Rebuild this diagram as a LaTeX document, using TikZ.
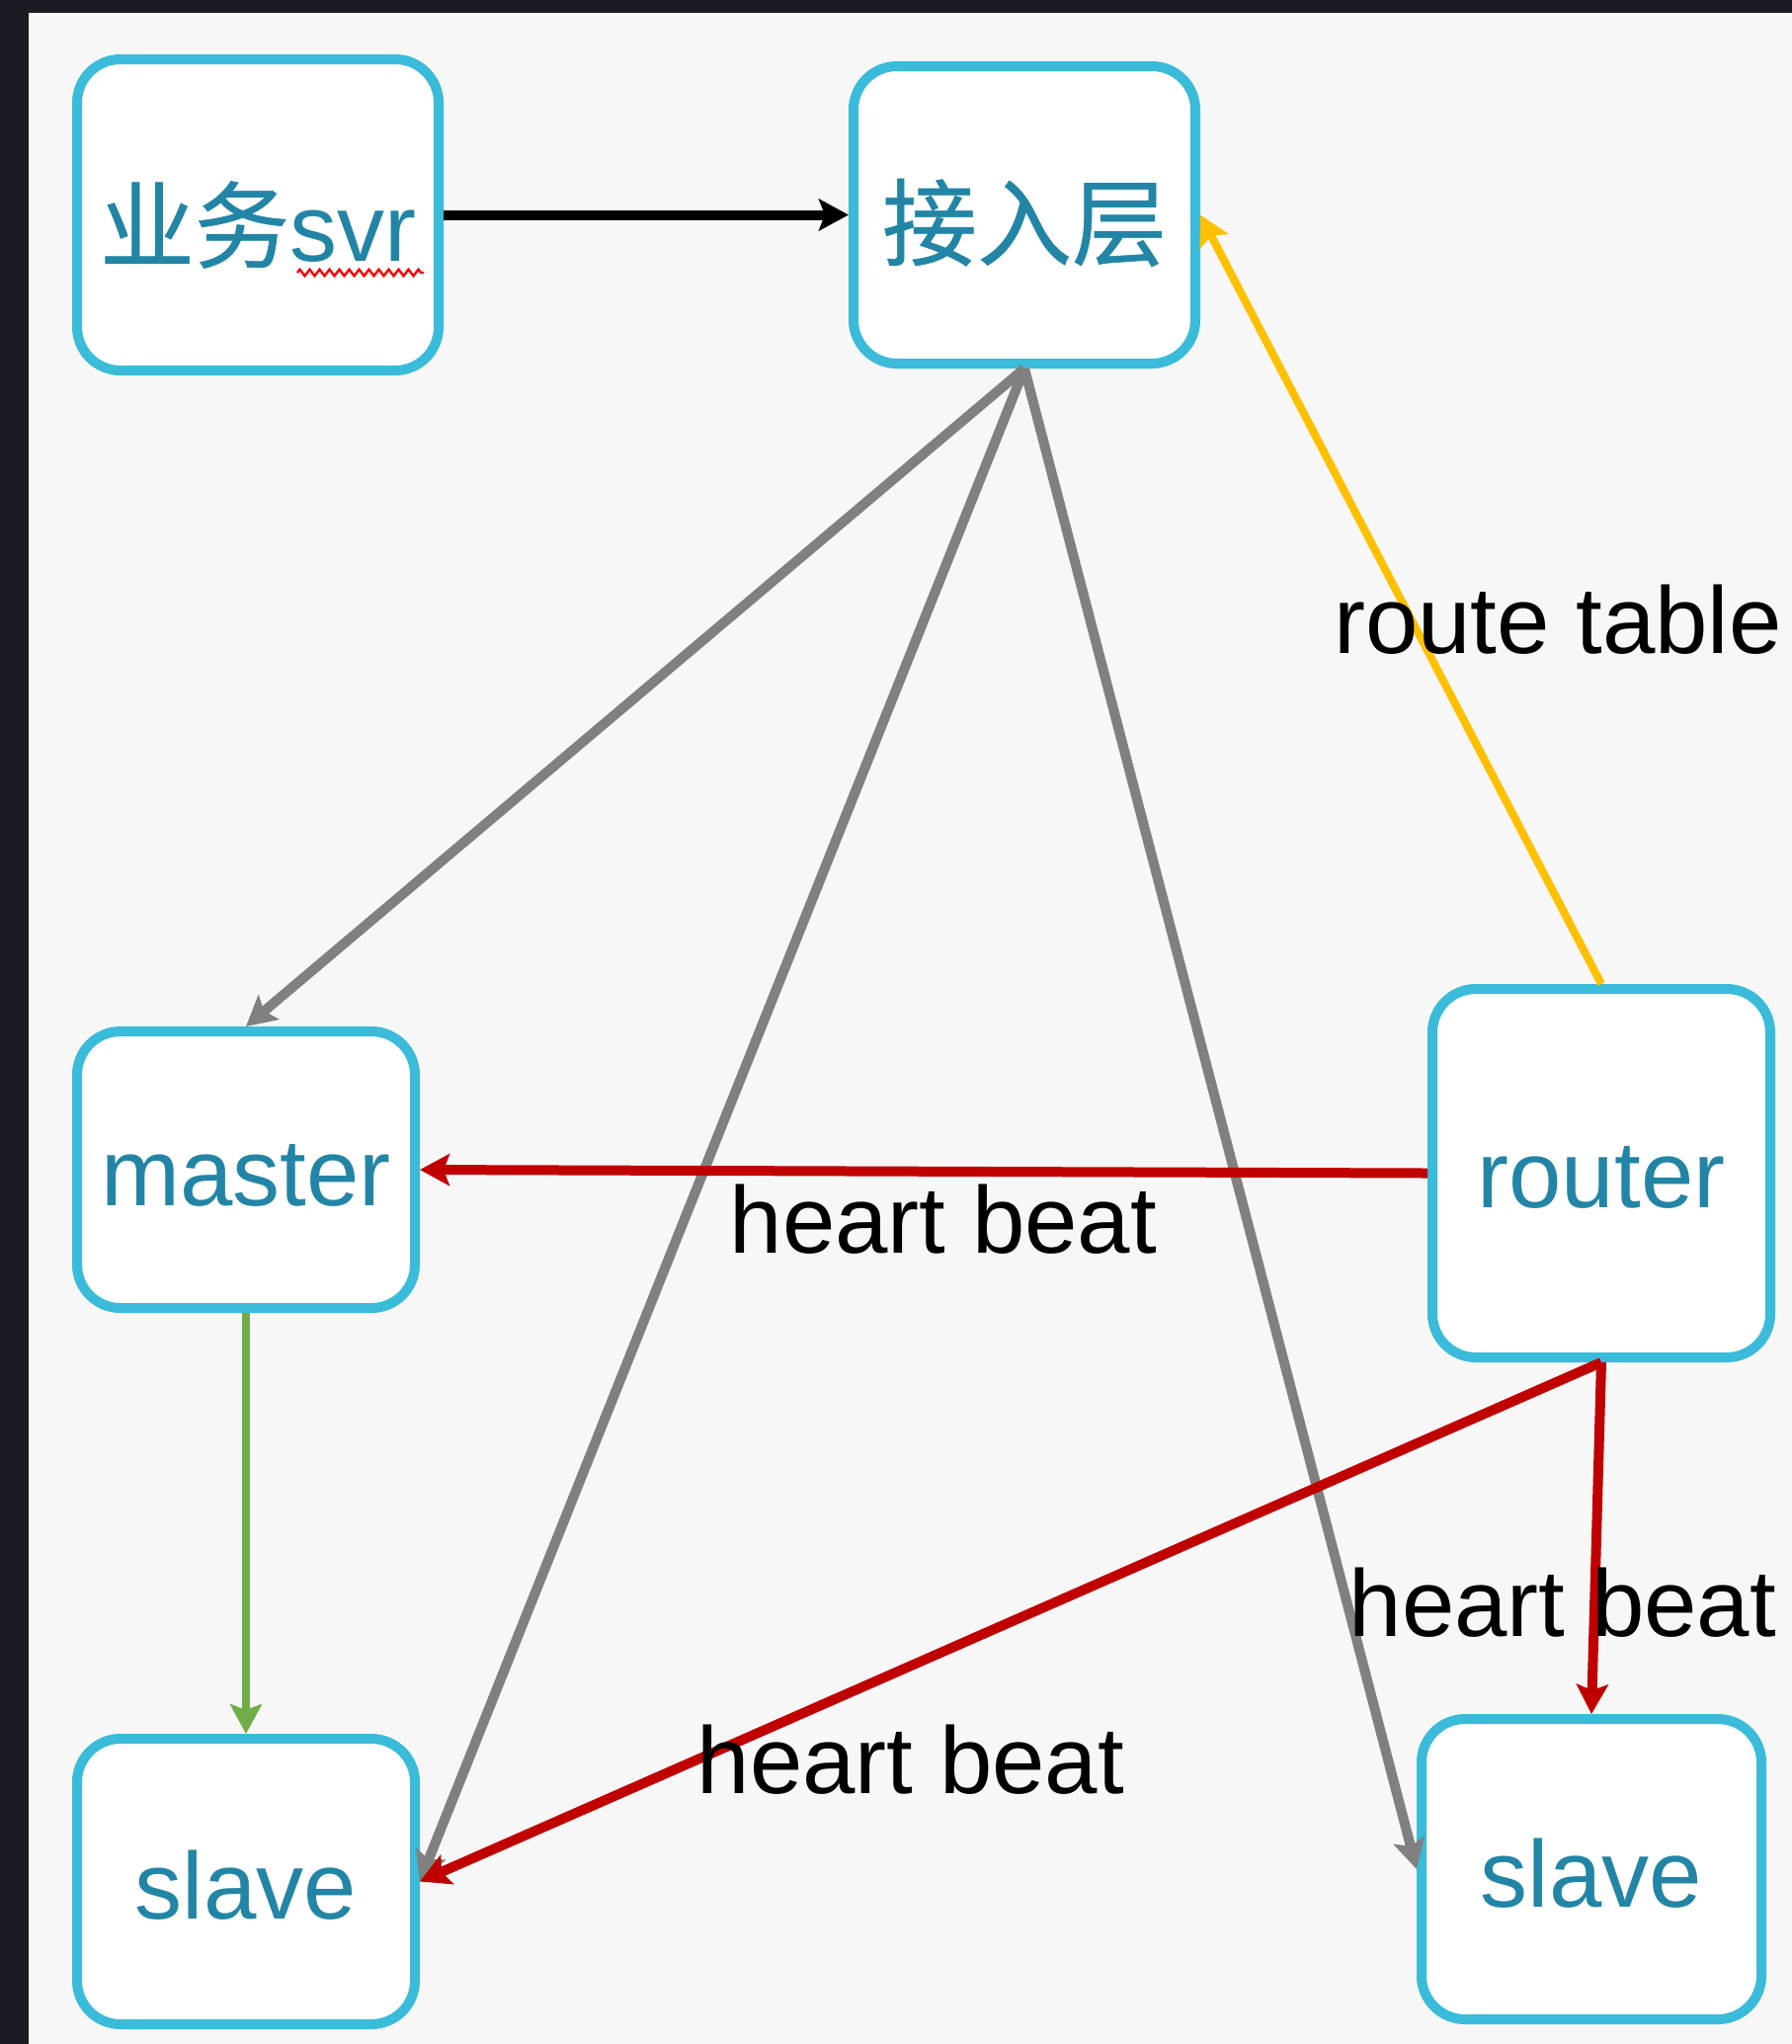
\documentclass[tikz,border=0pt]{standalone}
\usepackage{fontspec}
\setmainfont{Liberation Sans}
\newfontfamily\cjk[FakeBold=0.6]{Noto Sans CJK SC}
\usetikzlibrary{arrows.meta,decorations.pathmorphing}
\definecolor{bgdark}{HTML}{1B1C23}
\definecolor{bglight}{HTML}{F7F7F7}
\definecolor{boxline}{HTML}{3ABBD9}
\definecolor{boxtext}{HTML}{2385A6}
\definecolor{cgray}{HTML}{808080}
\definecolor{cred}{HTML}{C00000}
\definecolor{cyellow}{HTML}{FFC000}
\definecolor{cgreen}{HTML}{70AD47}
\newcommand{\dropby}[2]{\raisebox{-#1}[\height][\depth]{#2}}
\begin{document}
\begin{tikzpicture}[x=0.5pt,y=-0.5pt,
  box/.style={draw=boxline, line width=5pt, fill=white, rounded corners=22pt,
    text=boxtext, font=\fontsize{48}{58}\selectfont, inner sep=0pt},
  lbl/.style={font=\fontsize{48}{58}\selectfont, text=black, inner sep=0pt},
  conn/.style={line width=5pt, -{Stealth[length=15pt,width=16pt,inset=3pt]}}]
\fill[bgdark] (0,0) rectangle (1814,2069);
\fill[bglight] (29,13) rectangle (1814,2069);
\useasboundingbox (0,0) rectangle (1814,2069);

\node[box, minimum width=183pt, minimum height=157.5pt] (svr) at (261,217.5) {\dropby{5pt}{{\cjk 业务}svr}};
\node[box, minimum width=173pt, minimum height=150.5pt] (jr) at (1037,217.5) {\dropby{4pt}{\cjk 接入层}};
\node[box, minimum width=171pt, minimum height=140pt] (master) at (249,1184) {\dropby{3pt}{master}};
\node[box, minimum width=171pt, minimum height=186.5pt] (router) at (1621,1187.5) {\dropby{2pt}{router}};
\node[box, minimum width=171pt, minimum height=144.5pt] (slaveL) at (249,1904.5) {\dropby{2pt}{slave}};
\node[box, minimum width=172pt, minimum height=152pt] (slaveR) at (1611,1892) {\dropby{2pt}{slave}};

\coordinate (sqA) at (301,276);
\coordinate (sqB) at (429,276);
\draw[red, line width=1.2pt, decorate, decoration={zigzag, segment length=5pt, amplitude=1.6pt}] (sqA) -- (sqB);

\draw[conn, black] (svr) -- (jr);
\draw[conn, cgray] (jr.south) -- (master.north);
\draw[conn, cgray] (jr.south) -- (slaveL.east);
\draw[conn, cgray] (jr.south) -- (slaveR.west);
\draw[conn, cyellow, line width=4pt] (router.north) -- (jr.east);
\draw[conn, cred] (router.west) -- (master.east);
\draw[conn, cred] (router.south) -- (slaveL.east);
\draw[conn, cred] (router.south) -- (slaveR.north);
\draw[conn, cgreen, line width=4pt] (master.south) -- (slaveL.north);

\node[lbl] (lroute) at (1577,627) {route table};
\node[lbl] (lhb1) at (955,1234) {heart beat};
\node[lbl] (lhb2) at (1582,1622) {heart beat};
\node[lbl] (lhb3) at (922,1781) {heart beat};
\end{tikzpicture}
\end{document}
